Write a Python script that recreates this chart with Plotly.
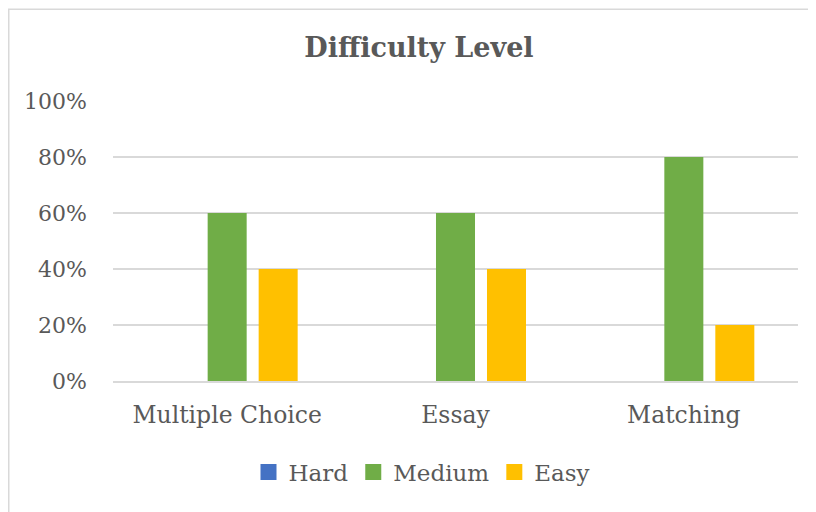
import plotly.graph_objects as go

categories = ["Multiple Choice", "Essay", "Matching"]
hard = [0, 0, 0]
medium = [60, 60, 80]
easy = [40, 40, 20]
series_names = ["Hard", "Medium", "Easy"]
colors = ["#4472C4", "#70AD47", "#FFC000"]
y_ticks = [0, 20, 40, 60, 80, 100]
y_tick_labels = ["0%", "20%", "40%", "60%", "80%", "100%"]

FONT = "DejaVu Serif"
TXT = "#595959"

# page has an 8px body margin; figure is offset by it
W, H = 808, 504
L, R, T, B = 105, 18, 93, 131
pw, ph = W - L - R, H - T - B

fig = go.Figure()
for name, vals, c in zip(series_names, [hard, medium, easy], colors):
    fig.add_trace(go.Bar(x=categories, y=vals, name=name, marker_color=c,
                         marker_line_width=0, showlegend=False,
                         legendgroup=name))
# legend entries with larger square swatches
for name, c in zip(series_names, colors):
    fig.add_trace(go.Scatter(x=[None], y=[None], mode="markers", name=name,
                             legendgroup=name,
                             marker=dict(symbol="square", size=16, color=c)))

def px_x(x):
    return (x - L) / pw

def px_y(y):
    return (H - B - y) / ph

fig.update_layout(
    width=W, height=H,
    margin=dict(l=L, r=R, t=T, b=B),
    paper_bgcolor="white", plot_bgcolor="white",
    barmode="group", bargap=0.33, bargroupgap=0.235,
    font=dict(family=FONT, color=TXT, size=22),
    title=dict(text="<b>Difficulty Level</b>", x=px_x(411), xref="paper",
               xanchor="center", y=1 - 40 / H, yanchor="middle",
               font=dict(family=FONT, size=27, color=TXT)),
    legend=dict(orientation="h", x=px_x(414), xanchor="center",
                y=px_y(464), yanchor="middle",
                font=dict(family=FONT, size=23, color=TXT),
                itemwidth=30, traceorder="normal"),
    xaxis=dict(showgrid=False, showline=True, linecolor="#D9D9D9", linewidth=1.5,
               ticks="", ticklabelstandoff=12, tickfont=dict(size=23.5)),
    yaxis=dict(range=[0, 100], tickvals=y_ticks, ticktext=y_tick_labels,
               showgrid=True, gridcolor="#D9D9D9", gridwidth=1.5,
               zeroline=False, showline=False, ticks="",
               ticklabelstandoff=25, tickfont=dict(size=22)),
    shapes=[dict(type="rect", xref="paper", yref="paper",
                 x0=px_x(0.75), x1=px_x(W + 20), y0=px_y(H + 20), y1=px_y(1.25),
                 line=dict(color="#D9D9D9", width=1.5), layer="below")],
)

fig.write_html("out.html")
